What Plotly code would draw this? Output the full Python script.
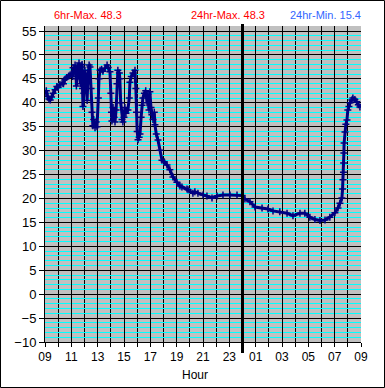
import plotly.graph_objects as go
from datetime import datetime, timedelta

times = ["09:00","09:06","09:12","09:18","09:24","09:30","09:37","09:46","09:54","10:00",
         "10:08","10:18","10:24","10:31","10:39","10:48","10:54","11:00","11:06","11:08",
         "11:12","11:17","11:21","11:23","11:26","11:30","11:35","11:40","11:42","11:45",
         "11:49","11:51","11:53","11:57","12:02","12:09","12:12","12:16","12:21","12:25",
         "12:30","12:34","12:38","12:42","12:48","12:53","12:57","13:03","13:06","13:11",
         "13:18","13:24","13:34","13:43","13:48","13:56","14:00","14:03","14:05","14:10",
         "14:15","14:19","14:24","14:28","14:32","14:39","14:41","14:45","14:51","14:55",
         "15:00","15:04","15:09","15:18","15:24","15:27","15:33","15:41","15:50","15:54",
         "15:57","16:00","16:04","16:09","16:13","16:18","16:22","16:26","16:33","16:39",
         "16:45","16:49","16:54","16:58","17:03","17:07","17:12","17:18","17:21","17:27",
         "17:35","17:44","17:53","18:03","18:16","18:29","18:43","19:01","19:15","19:24",
         "19:47","19:52","20:14","20:23","20:37","21:00","21:18","21:41","22:04","22:31",
         "23:03","23:35","23:58","00:11","00:34","00:57","01:29","01:56","02:19","02:50",
         "03:23","03:50","04:22","04:44","05:07","05:30","05:53","06:16","06:38","07:01",
         "07:15","07:24","07:33","07:36","07:38","07:40","07:41","07:42","07:43","07:47",
         "07:51","07:56","08:00","08:05","08:10","08:18","08:23","08:32","08:41","08:48",
         "08:55"]
temps = [42.0,42.5,41.3,40.8,40.6,41.2,42.0,42.7,43.4,43.2,
         43.8,44.1,44.0,44.9,45.3,45.6,45.8,46.0,45.5,47.3,
         46.2,47.9,47.0,43.5,45.0,47.5,48.3,46.0,44.0,47.5,
         48.0,43.0,39.2,42.0,46.8,44.0,40.5,45.5,47.9,47.5,
         43.0,38.0,35.2,36.5,34.8,36.0,35.0,41.0,45.0,46.8,
         47.0,46.6,47.2,47.9,47.4,46.5,42.0,38.0,36.2,39.0,
         37.0,36.0,38.5,44.0,46.8,46.2,45.0,40.0,36.5,36.0,
         37.0,39.0,37.8,38.5,41.0,44.3,45.5,46.2,46.8,43.0,
         38.0,34.0,32.3,32.8,33.5,37.0,39.5,41.0,42.0,42.5,
         40.0,41.8,38.5,42.3,39.0,37.5,36.5,38.0,35.4,33.5,
         32.2,30.1,28.0,27.7,27.0,26.0,24.5,23.4,22.6,22.4,
         22.0,21.8,21.1,21.4,21.1,20.7,20.5,20.1,20.5,20.7,
         20.7,20.7,20.6,19.9,19.3,18.2,18.0,17.8,17.4,17.2,
         16.9,16.4,16.9,16.9,16.1,15.6,15.4,15.5,16.1,17.0,
         18.0,19.0,20.1,22.0,23.9,25.5,27.4,29.5,31.6,33.9,
         35.5,36.4,38.5,39.2,40.0,40.6,41.0,40.7,40.2,39.6,
         39.1]

header_texts = ["6hr-Max. 48.3", "24hr-Max. 48.3", "24hr-Min. 15.4"]
header_colors = ["#ff0000", "#ff0000", "#3366ff"]
x_title = "Hour"

start = datetime(2024, 1, 1, 9, 0)
xs = []
for t in times:
    hh, mm = map(int, t.split(":"))
    d = datetime(2024, 1, 1, hh, mm)
    if hh < 9:
        d += timedelta(days=1)
    xs.append(d)

fig = go.Figure()
fig.add_trace(go.Scatter(
    x=xs, y=temps, mode="lines+markers",
    line=dict(color="#000080", width=3),
    marker=dict(symbol="cross-thin", size=5, line=dict(color="#000080", width=1.5)),
    showlegend=False, hoverinfo="skip"))

FONT = "Liberation Sans, Arial, sans-serif"
fig.update_layout(
    width=385, height=388,
    margin=dict(l=45, r=24, t=26, b=46),
    paper_bgcolor="white", plot_bgcolor="#c0c0c0",
    font=dict(family=FONT, color="black", size=12),
    xaxis=dict(
        type="date",
        range=[start, start + timedelta(days=1)],
        tick0=start, dtick=7200000, tickformat="%H",
        ticks="outside", ticklen=4, tickcolor="black",
        showgrid=True, gridcolor="black", gridwidth=1,
        showline=True, linecolor="black",
        tickfont=dict(size=12),
        minor=dict(dtick=3600000, showgrid=True, gridcolor="black", gridwidth=1,
                   ticks="outside", ticklen=4, tickcolor="black"),
        fixedrange=True,
    ),
    yaxis=dict(
        range=[-10, 56.05], tick0=-10, dtick=5,
        ticks="outside", ticklen=5, tickcolor="black",
        showgrid=True, gridcolor="black", gridwidth=1,
        zeroline=True, zerolinecolor="black", zerolinewidth=1,
        showline=True, linecolor="black",
        tickfont=dict(size=13),
        minor=dict(dtick=1, showgrid=True, gridcolor="#00ffff", gridwidth=1),
        fixedrange=True,
    ),
)

fig.add_shape(type="line", xref="x", yref="paper",
              x0=start + timedelta(hours=15), x1=start + timedelta(hours=15),
              y0=-0.035, y1=1.006, line=dict(color="black", width=3), layer="above")
fig.add_shape(type="rect", xref="paper", yref="paper",
              x0=-0.1408, x1=1.0744, y0=-0.144, y1=1.0807,
              line=dict(color="black", width=1))

for txt, col, xp in zip(header_texts, header_colors, [0.136, 0.579, 0.889]):
    fig.add_annotation(text=txt, xref="paper", yref="paper", x=xp, y=1.035,
                       showarrow=False, font=dict(size=11, color=col, family=FONT),
                       xanchor="center", yanchor="middle")
fig.add_annotation(text=x_title, xref="paper", yref="paper", x=0.475, y=-0.104,
                   showarrow=False, font=dict(size=12, color="black", family=FONT),
                   xanchor="center", yanchor="middle")

fig.write_html("out.html", config={"displayModeBar": False},
               post_script="document.body.style.margin='0px';document.body.style.overflow='hidden';")
